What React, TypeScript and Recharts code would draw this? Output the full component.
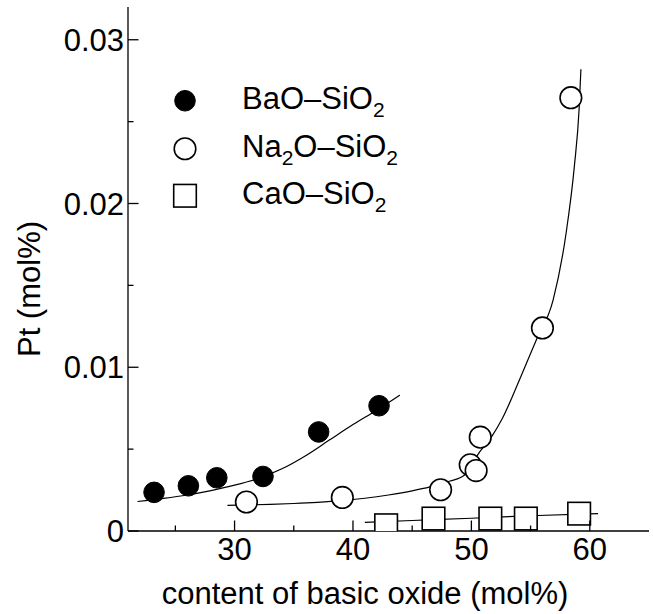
import React from 'react';
import { ComposedChart, Line, Scatter, XAxis, YAxis, Legend } from 'recharts';

const FONT = '"Liberation Sans", Arial, Helvetica, sans-serif';

// measured points
const baoX = [23.2, 26.1, 28.5, 32.4, 37.1, 42.2];
const baoY = [0.00236, 0.00276, 0.00325, 0.00333, 0.00605, 0.00765];
const naX = [31.0, 39.1, 47.4, 49.9, 50.4, 50.75, 56.0, 58.4];
const naY = [0.00177, 0.00205, 0.00252, 0.00404, 0.00369, 0.00573, 0.0124, 0.02646];
const caX = [42.8, 46.8, 51.6, 54.6, 59.1];
const caY = [0.00035, 0.00076, 0.00076, 0.00076, 0.00106];

// fitted curves
const baoFitX = [21.8, 24, 26, 28, 30, 32, 34, 36, 38, 40, 42, 43.95];
const baoFitY = [0.0018, 0.00199, 0.0022, 0.00247, 0.0028, 0.00322, 0.0038, 0.0046, 0.00555, 0.0065, 0.00738, 0.0083];
const naFitX = [29.4, 31, 33, 35, 37, 39, 41, 43, 45, 46.5, 48.2, 49.4, 50.7, 51.7, 52.6, 54.1, 55.5, 56.9, 58.0, 58.7, 59.1, 59.25];
const naFitY = [0.00157, 0.00159, 0.00163, 0.00168, 0.00175, 0.00185, 0.002, 0.0022, 0.00245, 0.00269, 0.00305, 0.0034, 0.00483, 0.00575, 0.00685, 0.0093, 0.0117, 0.0141, 0.0182, 0.0223, 0.0258, 0.0282];
const caFitX = [41.0, 45, 50, 55, 60.7];
const caFitY = [0.00053, 0.00064, 0.00078, 0.00093, 0.00106];

const xTicks = [25, 30, 35, 40, 45, 50, 55, 60];
const xTickLabels = ['', '30', '', '40', '', '50', '', '60'];
const yTicks = [0, 0.005, 0.01, 0.015, 0.02, 0.025, 0.03];
const yTickLabels = ['0', '', '0.01', '', '0.02', '', '0.03'];

const seriesNames = ['BaO–SiO2', 'Na2O–SiO2', 'CaO–SiO2'];

const zip = (xs: number[], ys: number[]) => xs.map((x, i) => ({ x, y: ys[i] }));

const baoPts = zip(baoX, baoY);
const naPts = zip(naX, naY);
const caPts = zip(caX, caY);
const baoFit = zip(baoFitX, baoFitY);
const naFit = zip(naFitX, naFitY);
const caFit = zip(caFitX, caFitY);

const MAJOR = 10.5;
const MINOR = 5.5;
const SW = 1.3;

const labelFor = (ticks: number[], labels: string[], v: number) => {
  const i = ticks.findIndex((t) => Math.abs(t - v) < 1e-9);
  return i < 0 ? '' : labels[i];
};

const BottomTick = (p: any) => {
  const lab = labelFor(xTicks, xTickLabels, p.payload.value);
  return (
    <g>
      <line x1={p.x} x2={p.x} y1={p.y} y2={p.y - (lab ? MAJOR : MINOR)} stroke="#000" strokeWidth={SW} />
      {lab && (
        <text x={p.x} y={p.y + 29} textAnchor="middle" fontSize={31} fontFamily={FONT} fill="#000">
          {lab}
        </text>
      )}
    </g>
  );
};

const TopTick = (p: any) => {
  const lab = labelFor(xTicks, xTickLabels, p.payload.value);
  return <line x1={p.x} x2={p.x} y1={p.y} y2={p.y + (lab ? MAJOR : MINOR)} stroke="#000" strokeWidth={SW} />;
};

const LeftTick = (p: any) => {
  const lab = labelFor(yTicks, yTickLabels, p.payload.value);
  return (
    <g>
      <line x1={p.x} x2={p.x + (lab ? MAJOR : MINOR)} y1={p.y} y2={p.y} stroke="#000" strokeWidth={SW} />
      {lab && (
        <text x={p.x - 4} y={p.y + 11} textAnchor="end" fontSize={31} fontFamily={FONT} fill="#000">
          {lab}
        </text>
      )}
    </g>
  );
};

const RightTick = (p: any) => {
  const lab = labelFor(yTicks, yTickLabels, p.payload.value);
  return <line x1={p.x} x2={p.x - (lab ? MAJOR : MINOR)} y1={p.y} y2={p.y} stroke="#000" strokeWidth={SW} />;
};

// marker shapes
const FilledDot = (p: any) => <circle cx={p.cx} cy={p.cy} r={10.3} fill="#000" stroke="#000" strokeWidth={1} />;
const OpenDot = (p: any) => <circle cx={p.cx} cy={p.cy} r={10.8} fill="#fff" stroke="#000" strokeWidth={1.6} />;
const OpenSquare = (p: any) => (
  <rect x={p.cx - 11.3} y={p.cy - 11.3} width={22.6} height={22.6} fill="#fff" stroke="#000" strokeWidth={1.6} />
);
const markers = [FilledDot, OpenDot, OpenSquare];

const withSubs = (s: string) =>
  s.split(/(\d)/).map((part, i) =>
    /\d/.test(part) ? (
      <span key={i} style={{ fontSize: 21, position: 'relative', top: 8 }}>
        {part}
      </span>
    ) : (
      <span key={i}>{part}</span>
    )
  );

const renderLegend = () => (
  <div style={{ fontFamily: FONT, fontSize: 31, color: '#000' }}>
    {seriesNames.map((name, i) => {
      const M = markers[i];
      return (
        <div key={name} style={{ display: 'flex', alignItems: 'center', height: 47.5 }}>
          <svg width={50} height={47.5} style={{ display: 'block' }}>
            <M cx={25} cy={23.75} />
          </svg>
          <span style={{ marginLeft: 32, lineHeight: '34px', whiteSpace: 'nowrap' }}>{withSubs(name)}</span>
        </div>
      );
    })}
  </div>
);

const XTitle = () => (
  <text x={365} y={604} textAnchor="middle" fontSize={31} fontFamily={FONT} fill="#000">
    content of basic oxide (mol%)
  </text>
);

const YTitle = () => (
  <text
    x={29}
    y={289}
    dy="0.36em"
    textAnchor="middle"
    transform="rotate(-90, 29, 289)"
    fontSize={31}
    fontFamily={FONT}
    fill="#000"
  >
    Pt (mol%)
  </text>
);

export default function App() {
  const axisLine = { stroke: '#000', strokeWidth: SW };
  return (
    <div style={{ position: 'absolute', left: 0, top: 0, background: '#fff' }}>
      <ComposedChart width={653} height={614} margin={{ top: 7, right: 4, bottom: 0, left: 0 }}>
        <XAxis
          xAxisId="b"
          dataKey="x"
          type="number"
          orientation="bottom"
          domain={[21, 65]}
          allowDataOverflow
          ticks={xTicks}
          interval={0}
          height={83}
          tickSize={0}
          tickMargin={0}
          tickLine={false}
          axisLine={axisLine}
          tick={BottomTick}
          label={XTitle}
        />
        <XAxis
          xAxisId="t"
          type="number"
          orientation="top"
          domain={[21, 65]}
          allowDataOverflow
          ticks={xTicks}
          interval={0}
          height={0}
          tickSize={0}
          tickMargin={0}
          tickLine={false}
          axisLine={axisLine}
          tick={TopTick}
        />
        <YAxis
          yAxisId="l"
          dataKey="y"
          type="number"
          orientation="left"
          domain={[0, 0.032]}
          allowDataOverflow
          ticks={yTicks}
          interval={0}
          width={128}
          tickSize={0}
          tickMargin={0}
          tickLine={false}
          axisLine={axisLine}
          tick={LeftTick}
          label={YTitle}
        />
        <YAxis
          yAxisId="r"
          type="number"
          orientation="right"
          domain={[0, 0.032]}
          allowDataOverflow
          ticks={yTicks}
          interval={0}
          width={0}
          tickSize={0}
          tickMargin={0}
          tickLine={false}
          axisLine={axisLine}
          tick={RightTick}
        />

        <Line data={baoFit} dataKey="y" xAxisId="b" yAxisId="l" type="monotone" stroke="#000" strokeWidth={1.2} dot={false} activeDot={false} isAnimationActive={false} />
        <Line data={naFit} dataKey="y" xAxisId="b" yAxisId="l" type="monotone" stroke="#000" strokeWidth={1.2} dot={false} activeDot={false} isAnimationActive={false} />
        <Line data={caFit} dataKey="y" xAxisId="b" yAxisId="l" type="monotone" stroke="#000" strokeWidth={1.2} dot={false} activeDot={false} isAnimationActive={false} />

        <Scatter data={baoPts} xAxisId="b" yAxisId="l" shape={FilledDot} isAnimationActive={false} />
        <Scatter data={naPts} xAxisId="b" yAxisId="l" shape={OpenDot} isAnimationActive={false} />
        <Scatter data={caPts} xAxisId="b" yAxisId="l" shape={OpenSquare} isAnimationActive={false} />

        <Legend
          layout="vertical"
          align="center"
          verticalAlign="middle"
          wrapperStyle={{ left: 160, top: 77, width: 320 }}
          content={renderLegend}
        />
      </ComposedChart>
    </div>
  );
}
